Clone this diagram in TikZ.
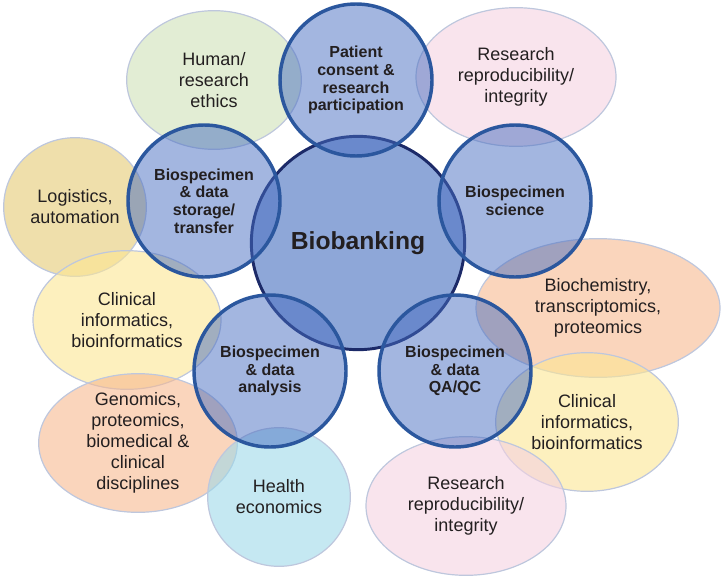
\documentclass[tikz,border=0pt]{standalone}
\usepackage{fontspec}
\setmainfont{Liberation Sans}
\usetikzlibrary{shapes.geometric}

\definecolor{txtgray}{RGB}{35,31,32}
\definecolor{ringblue}{RGB}{43,87,158}
\definecolor{satfill}{RGB}{71,109,193}
\definecolor{corefill}{RGB}{142,167,216}
\definecolor{coreline}{RGB}{28,42,104}
\definecolor{rimgray}{RGB}{190,199,221}
\definecolor{ethicsgreen}{RGB}{207,225,183}
\definecolor{reprpink}{RGB}{245,210,225}
\definecolor{logtan}{RGB}{228,202,115}
\definecolor{infoyellow}{RGB}{252,230,147}
\definecolor{omicspeach}{RGB}{247,185,143}
\definecolor{healthcyan}{RGB}{158,217,233}

\begin{document}
\begin{tikzpicture}[x=0.75pt, y=-0.75pt,
    topic/.style={ellipse, draw=rimgray, line width=0.9pt, fill opacity=0.6, text opacity=1,
        inner sep=0pt, minimum height=104pt, align=center, text=txtgray,
        font=\fontsize{13.5}{15.8}\selectfont},
    area/.style={circle, draw=ringblue, line width=2.6pt, fill=satfill, fill opacity=0.5,
        text opacity=1, minimum size=114pt, inner sep=0pt, align=center, text=txtgray,
        font=\bfseries\fontsize{12}{13.3}\selectfont},
    core/.style={circle, draw=coreline, line width=2.2pt, fill=corefill, minimum size=160pt,
        inner sep=0pt, text=txtgray, font=\bfseries\fontsize{18.5}{22}\selectfont}]

    \useasboundingbox (0,0) rectangle (724,578);

    % outer ring of related fields
    \node[topic, fill=ethicsgreen, minimum width=131pt] (ethics) at (214,80) {Human/\\research\\ethics};
    \node[topic, fill=reprpink, minimum width=150pt] (reprotop) at (516,77) {Research\\reproducibility/\\integrity};
    \node[topic, fill=logtan, minimum width=107pt] (logistics) at (75,207) {Logistics,\\automation};
    \node[topic, fill=infoyellow, minimum width=141pt] (infoleft) at (127,320) {Clinical\\informatics,\\bioinformatics};
    \node[topic, fill=omicspeach, minimum width=149pt, inner ysep=-3pt] (genomics) at (138,443) {Genomics,\\proteomics,\\biomedical \&\\clinical\\disciplines};
    \node[topic, fill=healthcyan, minimum width=107pt] (health) at (279,497) {Health\\economics};
    \node[topic, fill=omicspeach, minimum width=183pt] (biochem) at (598,308) {Biochemistry,\\transcriptomics,\\proteomics};
    \node[topic, fill=infoyellow, minimum width=137pt] (inforight) at (587,422) {Clinical\\informatics,\\bioinformatics};
    \node[topic, fill=reprpink, minimum width=150pt] (reprobottom) at (466,506) {Research\\reproducibility/\\integrity};

    % hub
    \node[core] (hub) at (358,243) {Biobanking};

    % core areas
    \node[area] (consent) at (356,80) {Patient\\consent \&\\research\\participation};
    \node[area] (science) at (515,201) {Biospecimen\\science};
    \node[area] (storage) at (204,201) {Biospecimen\\\& data\\storage/\\transfer};
    \node[area] (analysis) at (270,371) {Biospecimen\\\& data\\analysis};
    \node[area] (qaqc) at (455,371) {Biospecimen\\\& data\\QA/QC};

\end{tikzpicture}
\end{document}
